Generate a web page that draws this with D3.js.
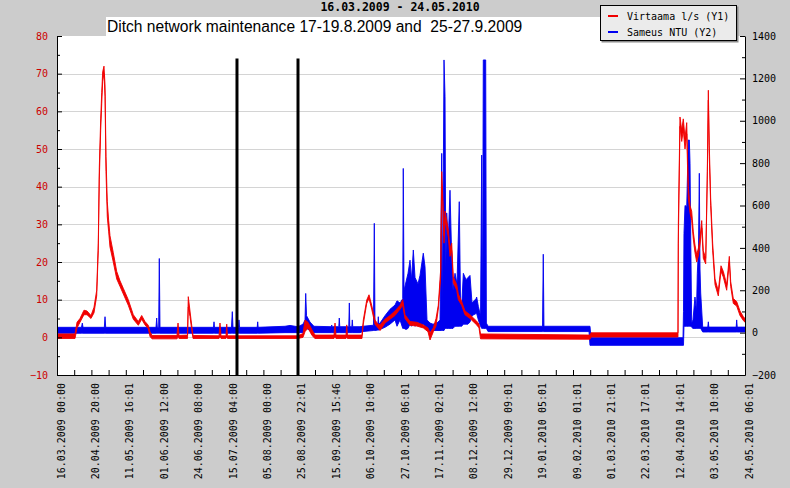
<!DOCTYPE html>
<html><head><meta charset="utf-8">
<script src="https://cdn.jsdelivr.net/npm/d3@7"></script>
<style>body{margin:0;background:#cccccc} svg{display:block}</style>
</head><body><svg id="c" width="790" height="488"></svg>
<script>
// ---- data ----
const tickLabels = ["16.03.2009 00:00","20.04.2009 20:00","11.05.2009 16:01","01.06.2009 12:00","24.06.2009 08:00","15.07.2009 04:00","05.08.2009 00:00","25.08.2009 22:01","15.09.2009 15:46","06.10.2009 10:00","27.10.2009 06:01","17.11.2009 02:01","08.12.2009 12:00","29.12.2009 09:01","19.01.2010 05:01","09.02.2010 01:01","01.03.2010 21:01","22.03.2010 17:01","12.04.2010 14:01","03.05.2010 10:00","24.05.2010 06:01"];
// x positions in hours of measurement series (sample time axis)
const tickHours = [0,500,1000,1500,2000,2500,3000,3500,4000,4500,5000,5500,6000,6500,7000,7500,8000,8500,9000,9500,10000];
const minorHours = [250,750,1250,1750,2250,2750,3250,3750,4250,4750,5250,5750,6250,6750,7250,7750,8250,8750,9250,9750];
const y1Ticks = [-10,0,10,20,30,40,50,60,70,80];
const y1Minor = [-5,5,15,25,35,45,55,65,75];
const y2Ticks = [-200,0,200,400,600,800,1000,1200,1400];
const y2Minor = [-100,100,300,500,700,900,1100,1300];
const gridValues = [0,10,20,30,40,50,60,70];

// Virtaama l/s (Y1): envelope (low / high) of the dense series
const flowX = [0,262,291,334,392,436,494,538,577,600,615,635,650,664,683,698,712,731,751,770,818,868,916,964,1036,1109,1182,1231,1279,1327,1352,1381,1744,1759,1773,1897,1908,1933,1958,1977,2355,2369,2384,2456,2467,2478,3503,3576,3605,3648,3706,3750,4026,4041,4055,4201,4211,4222,4433,4452,4502,4535,4574,4622,4666,4695,4767,4840,4913,4986,5025,5058,5131,5228,5324,5392,5422,5470,5509,5542,5577,5592,5606,5625,5640,5664,5688,5712,5737,5760,5810,5833,5882,5930,6003,6100,6134,6156,7747,7762,9026,9031,9055,9080,9103,9128,9153,9176,9201,9225,9249,9273,9298,9321,9346,9371,9394,9429,9452,9467,9481,9501,9530,9564,9612,9651,9685,9734,9772,9792,9830,9879,9927,9975,10000];
const flowLo = [-0.3,-0.3,2.5,4,6,6,5,6.5,11,23,42,55,62,68,70,64,44,32,28,24,20,15.5,13.5,11.5,8.5,4.8,3.2,4.8,3.3,2.3,0.2,-0.4,-0.4,0,-0.3,-0.3,8,5.5,2,-0.3,-0.3,0,-0.3,-0.3,0,-0.3,-0.3,0,1.5,2.5,0.5,-0.3,-0.3,0,-0.3,-0.3,0,-0.3,-0.3,3.5,9,10.3,7.5,3.5,2.5,1.8,3.8,4.8,5.8,7.5,8.5,5,3.2,3,2.5,1.5,-0.7,1.5,3,7.5,16,40,36,25,31,29,26.5,21.5,23,14.5,12.5,10,8.5,6,5,3.3,2.5,-0.4,-0.5,0.1,0.1,25,56,52,55,50,54,37,33,31,26,22.5,20,21.5,24.5,29,21,19.5,42,63,48,35,23,14,11,17.5,16,12.5,20,13.5,9,8.3,5.8,4.5,4];
const flowHi = [0.9,0.9,4,5,7.2,7,5.8,8,12.5,25,45,58,65,70.5,72,67,48,36,31,27,22.5,17.5,15,13,10,6,4.2,5.8,4.2,3.2,1.5,0.5,0.5,3.8,0.5,0.6,10.8,7,3.2,0.5,0.4,3.8,0.4,0.4,3.5,0.4,0.4,1,4.6,4,2,0.6,0.6,3.8,0.6,0.6,3.3,0.6,0.6,4.6,9.9,11.3,8.5,4.6,3.5,3.3,4.8,5.8,7,8.5,10,6,4.2,4,3.3,2.5,1.2,2.5,5,8.5,18,44,38,27,33.5,31,28.5,23.5,25,16,14,11.5,9.5,7,6,4.3,3.5,0.9,0.6,1.2,1.2,30,58.5,55,58,53,57,40,35,33.5,28,24.5,22,23.5,26.5,31,23,21,44,65.6,51,37,25,15.5,12.3,19,17.5,14,21.5,14.8,10.3,9.5,7,5.5,5];

// Sameus NTU (Y2): envelope (low / high)
const ntuX = [0,356,368,378,688,698,708,1439,1449,1458,1478,1487,1497,2275,2282,2289,2536,2548,2558,2638,2645,2653,2910,2917,2924,3314,3387,3459,3503,3576,3605,3615,3627,3677,3735,3986,3993,4000,4096,4103,4110,4241,4249,4256,4285,4292,4299,4404,4448,4600,4612,4622,4663,4670,4677,4695,4767,4840,4913,4942,4986,5025,5033,5044,5073,5102,5131,5153,5179,5204,5247,5276,5324,5349,5378,5422,5465,5523,5567,5592,5603,5625,5640,5651,5664,5688,5712,5737,5756,5785,5814,5847,5865,5882,5906,5945,5974,6003,6032,6090,6100,6124,6156,6173,6185,6196,6231,6241,6265,7057,7068,7078,7733,7747,7762,9099,9106,9113,9128,9153,9176,9191,9201,9213,9225,9244,9273,9295,9307,9324,9336,9346,9356,9385,9459,9467,9474,9872,9879,9887,10000];
const ntuLo = [-3,-3,-3,-3,-3,-3,-3,-3,-3,-3,-3,-3,-3,-3,-3,-3,-3,-3,-3,-3,-3,-3,-3,-3,-3,0,0,0,0,0,20,20,20,10,0,0,0,0,0,0,0,0,0,0,0,0,0,0,5,10,10,10,12,12,12,15,25,40,60,30,60,20,20,20,15,20,40,30,40,30,50,30,40,30,10,5,10,10,10,10,10,10,20,20,20,20,20,20,20,30,30,30,30,30,40,40,40,50,80,90,90,60,30,20,20,20,20,20,5,5,5,5,5,-60,-60,-60,-60,30,30,30,30,30,30,30,25,20,20,20,20,20,20,20,20,3,3,3,3,3,3,3,3];
const ntuHi = [25,25,45,25,25,75,25,25,69,25,25,350,25,25,51,25,25,99,25,25,60,25,25,51,25,30,34,30,28,40,60,185,80,50,30,28,36,28,28,69,28,28,140,28,28,60,28,28,30,35,516,35,38,75,40,45,80,110,130,150,140,160,775,200,240,280,342,250,390,260,230,270,375,311,60,45,40,45,60,846,80,1287,1113,300,565,437,672,357,200,280,230,618,150,122,280,250,260,270,140,160,168,124,80,838,60,1287,1287,45,30,30,370,30,30,30,-24,-24,100,468,600,594,909,909,800,400,45,60,168,100,280,400,752,300,187,26,26,51,26,26,60,26,26];

// maintenance marker lines (hours) and their top value on Y1
const markerX = [2616, 3503];
const markerTop = 74;

const legendItems = ["Virtaama l/s (Y1)", "Sameus NTU (Y2)"];
const titleText = "16.03.2009 - 24.05.2010";
const subtitleText = "Ditch network maintenance 17-19.8.2009 and\u00a0 25-27.9.2009";

// ---- layout ----
const L = 57, R = 745, T = 36, B = 375;
const RED = "#f00000", BLUE = "#0000f0";
const MONO = "'DejaVu Sans Mono', monospace";

const svg = d3.select("#c");
svg.append("rect").attr("width",790).attr("height",488).attr("fill","#cccccc");

const x = d3.scaleLinear().domain([0,10000]).range([L,R]);
const y1 = d3.scaleLinear().domain([-10,80]).range([B,T]);
const y2 = d3.scaleLinear().domain([-200,1400]).range([B,T]);

// plot background
svg.append("rect").attr("x",L).attr("y",T).attr("width",R-L).attr("height",B-T).attr("fill","#ffffff");
// subtitle white box
svg.append("rect").attr("x",106).attr("y",17).attr("width",632).attr("height",T-17+1).attr("fill","#ffffff");

// grid
svg.append("g").selectAll("line").data(gridValues).join("line")
  .attr("x1",L).attr("x2",R).attr("y1",d=>Math.round(y1(d))+0.5).attr("y2",d=>Math.round(y1(d))+0.5)
  .attr("stroke","#d4d4d4").attr("stroke-width",1);

// clip
svg.append("clipPath").attr("id","clip").append("rect").attr("x",L).attr("y",T).attr("width",R-L).attr("height",B-T);
const plot = svg.append("g").attr("clip-path","url(#clip)");

function band(X, lo, hi, ys, color){
  const idx = d3.range(X.length);
  const area = d3.area().x(i=>x(X[i])).y0(i=>ys(lo[i])).y1(i=>ys(hi[i]));
  plot.append("path").attr("d", area(idx)).attr("fill", color)
    .attr("stroke", color).attr("stroke-width", 0.9).attr("stroke-linejoin","round");
}
band(ntuX, ntuLo, ntuHi, y2, BLUE);
band(flowX, flowLo, flowHi, y1, RED);

// markers
plot.append("g").selectAll("line").data(markerX).join("line")
  .attr("x1",d=>x(d)).attr("x2",d=>x(d)).attr("y1",y1(markerTop)).attr("y2",B)
  .attr("stroke","#000").attr("stroke-width",3);

// axes
function styleAxis(g){
  g.selectAll("path.domain").attr("stroke","#000");
  g.selectAll(".tick line").attr("stroke","#000");
  g.selectAll("text").attr("font-family",MONO).attr("font-size","10px");
}
const gl = svg.append("g").attr("transform",`translate(${L},0)`)
  .call(d3.axisLeft(y1).tickValues(y1Ticks).tickSize(-5).tickSizeOuter(0).tickPadding(9).tickFormat(d3.format("d")));
styleAxis(gl); gl.selectAll("text").attr("fill","#cc0000");
const glm = svg.append("g").attr("transform",`translate(${L},0)`)
  .call(d3.axisLeft(y1).tickValues(y1Minor).tickSize(-3).tickSizeOuter(0).tickFormat(""));
styleAxis(glm); glm.select("path.domain").remove();

const gr = svg.append("g").attr("transform",`translate(${R},0)`)
  .call(d3.axisRight(y2).tickValues(y2Ticks).tickSize(-5).tickSizeOuter(0).tickPadding(7).tickFormat(d3.format("d")));
styleAxis(gr); gr.selectAll("text").attr("fill","#000");
const grm = svg.append("g").attr("transform",`translate(${R},0)`)
  .call(d3.axisRight(y2).tickValues(y2Minor).tickSize(-3).tickSizeOuter(0).tickFormat(""));
styleAxis(grm); grm.select("path.domain").remove();

const gb = svg.append("g").attr("transform",`translate(0,${B})`)
  .call(d3.axisBottom(x).tickValues(tickHours).tickSize(-5).tickSizeOuter(0).tickFormat((d,i)=>tickLabels[i]));
styleAxis(gb);
gb.selectAll("text").attr("transform","rotate(-90)").attr("text-anchor","end")
  .attr("x",-8).attr("y",7).attr("dy",0).attr("fill","#000");
const gbm = svg.append("g").attr("transform",`translate(0,${B})`)
  .call(d3.axisBottom(x).tickValues(minorHours).tickSize(-5).tickSizeOuter(0).tickFormat(""));
styleAxis(gbm); gbm.select("path.domain").remove();

// titles
svg.append("text").attr("x",400).attr("y",11).attr("text-anchor","middle")
  .attr("font-family",MONO).attr("font-weight","bold").attr("font-size","11.5px").attr("fill","#000").text(titleText);
svg.append("text").attr("x",107).attr("y",31.5)
  .attr("font-family","'Liberation Sans', Arial, sans-serif").attr("font-size","15.6px").attr("fill","#000").text(subtitleText);

// legend
const lg = svg.append("g");
lg.append("rect").attr("x",601.5).attr("y",6.5).attr("width",137).attr("height",36).attr("fill","#8c8c8c");
lg.append("rect").attr("x",600.5).attr("y",5.5).attr("width",136).attr("height",35).attr("fill","#ebebeb").attr("stroke","#000");
const legColors = [RED, BLUE];
legendItems.forEach((t,i)=>{
  const yy = 16 + i*16;
  lg.append("line").attr("x1",608).attr("x2",618).attr("y1",yy).attr("y2",yy).attr("stroke",legColors[i]).attr("stroke-width",2);
  lg.append("text").attr("x",627).attr("y",yy+3.5).attr("font-family",MONO).attr("font-size","10px").attr("fill","#000").text(t);
});
</script>
</body></html>
